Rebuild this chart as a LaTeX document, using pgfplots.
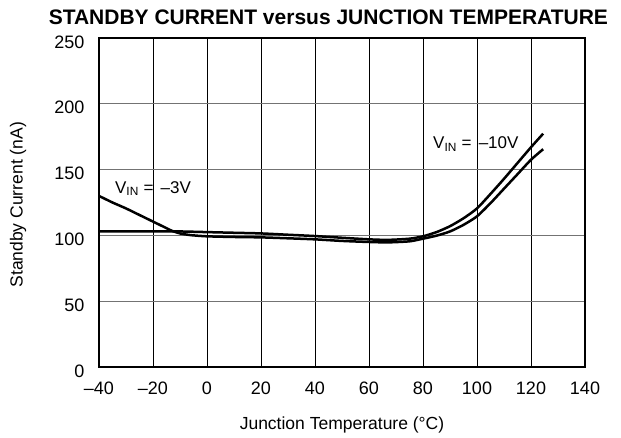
\documentclass[border=0pt]{standalone}
\usepackage{fontspec}
\setmainfont{Liberation Sans}
\usepackage{pgfplots}
\pgfplotsset{compat=1.18}
\begin{document}
\begin{tikzpicture}
\useasboundingbox (-99bp,-71bp) rectangle (522bp,367bp);
\begin{axis}[
  at={(0,0)}, anchor=south west, scale only axis,
  width=486bp, height=329bp,
  xmin=-40, xmax=140, ymin=0, ymax=250,
  xtick={-40,-20,...,140}, ytick={0,50,...,250},
  xticklabels={–40,–20,0,20,40,60,80,100,120,140},
  yticklabels={0,50,100,150,200,250},
  tick style={draw=none},
  axis line style={line width=2.2bp},
  xmajorgrids, ymajorgrids,
  x grid style={black, line width=0.9bp},
  y grid style={black!55, line width=0.9bp},
  ticklabel style={font=\fontsize{18bp}{21bp}\selectfont},
  xticklabel style={yshift=-11bp},
  yticklabel style={xshift=-11bp, yshift=-4bp},
  xlabel={Junction Temperature (°C)},
  ylabel={Standby Current (nA)},
  every axis x label/.style={at={(axis description cs:0.5,-0.176)}, anchor=center, font=\fontsize{17.5bp}{20bp}\selectfont},
  every axis y label/.style={at={(axis description cs:-0.1667,0.493)}, anchor=center, rotate=90, font=\fontsize{17.5bp}{20bp}\selectfont},
  title={STANDBY CURRENT versus JUNCTION TEMPERATURE},
  every axis title/.style={at={(axis description cs:0.472,1.062)}, anchor=center, font=\fontsize{21bp}{24bp}\selectfont\bfseries},
  clip=false,
]
\addplot[black, line width=2.5bp, smooth, tension=0.4] coordinates {
(-40,130) (-35,125) (-30,120.5) (-25,115.5) (-20,110.5) (-16,106.5) (-13,103.5)
(-10,101.5) (-6,100.2) (0,99.3) (10,98.8) (20,98.5) (30,97.8) (40,97) (50,95.8)
(60,95) (67,94.7) (75,95.5) (80,97.5) (85,99.8) (90,103) (95,108) (100,114.5)
(105,124.5) (110,135.5) (115,146.5) (120,157.5) (124.5,165.5)
};
\addplot[black, line width=2.5bp, smooth, tension=0.4] coordinates {
(-40,103) (-30,103) (-20,103) (-10,103) (0,102.5) (10,102) (20,101.5) (30,100.5)
(40,99.5) (50,98.2) (60,97) (67,96.6) (75,97.5) (80,99.3) (85,102.5) (90,107)
(95,113) (100,120.5) (105,131.5) (110,143) (115,155) (120,167) (124.5,177.3)
};
\node[anchor=base west, inner sep=0, font=\fontsize{17bp}{20bp}\selectfont] at (axis cs:-34.1,132.2) {V\textsubscript{IN} =\hspace{2.5bp} –3V};
\node[anchor=base west, inner sep=0, font=\fontsize{17bp}{20bp}\selectfont] at (axis cs:83.7,165.7) {V\textsubscript{IN} =\hspace{2.5bp} –10V};
\end{axis}
\end{tikzpicture}
\end{document}
